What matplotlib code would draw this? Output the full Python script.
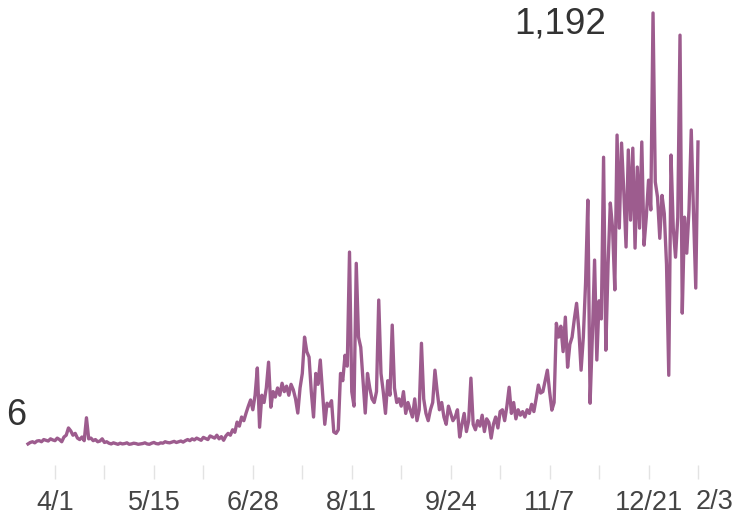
import matplotlib
matplotlib.use('Agg')
import matplotlib.pyplot as plt
import pandas as pd

# casos diarios, lidos a olho no grafico (um valor por dia, a partir de 20/3)
start_date = '2020-03-20'
values = [
    6, 10, 12, 9, 14, 15, 12, 18, 16, 14, 20, 17, 15, 22, 18, 12, 25, 30,
    50, 42, 30, 35, 22, 18, 25, 15, 78, 20, 22, 15, 18, 12, 14, 20, 10, 12,
    8, 6, 9, 7, 5, 8, 6, 7, 9, 5, 6, 8, 7, 5, 6, 7, 9, 6, 5, 8, 10, 7, 6, 9,
    8, 12, 10, 9, 11, 13, 10, 12, 14, 11, 15,
    18, 15, 20, 17, 22, 19, 16, 24, 21, 18, 28, 25, 22, 30, 20, 26, 16, 28, 35, 30,
    45, 38, 66, 55, 80, 70, 91, 110, 127,
    100, 140, 215, 52, 140, 120, 160, 231, 107, 150, 135, 160, 140, 173, 150,
    165, 140, 170, 155, 130, 91, 160, 200, 300, 260, 245, 150, 80, 200, 170,
    237, 150, 60, 118, 110, 125, 39, 35, 45, 200, 180, 250, 220, 534, 150,
    110, 503, 300, 272, 180, 91, 200, 160, 130, 120, 150, 402, 200, 150, 90,
    180, 140, 333, 160, 120, 130, 110, 150, 90, 120, 100, 80, 130, 70, 100,
    283, 130, 90, 70, 100, 120, 209, 150, 100, 120, 80, 60, 110, 90, 70,
    80, 100, 25, 60, 90, 40, 70, 187, 60, 45, 70, 55, 85, 40, 75,
    65, 22, 60, 80, 50, 95, 100, 70, 110, 162, 90, 120, 75, 100, 85,
    95, 80, 100, 90, 115, 95, 130, 168, 146, 150, 180, 209, 150, 99, 120,
    338, 300, 330, 260, 355, 217, 280, 300, 350, 393, 320, 209, 300, 450, 677,
    118, 300, 512, 237, 400, 350, 795, 264, 500, 669, 600, 430, 856, 600, 834,
    700, 548, 815, 622, 820, 545, 768, 600, 837, 553, 630, 732, 650, 1192, 727,
    685, 572, 690, 640, 500, 195, 801, 600, 520, 630, 1131, 366, 630, 531, 650,
    870, 641, 435, 837,
]
tick_labels = ['4/1', '5/15', '6/28', '8/11', '9/24', '11/7', '12/21']
last_label = '2/3'

dates = pd.date_range(start_date, periods=len(values), freq='D')
s = pd.Series(values, index=dates)

cor = '#9d5c8e'
plt.rcParams['font.family'] = ['Liberation Sans', 'DejaVu Sans']

fig = plt.figure(figsize=(7.42, 5.21), dpi=100)
ax = fig.add_axes([28 / 742, 56 / 521, 670 / 742, 452 / 521])
ax.plot(s.index, s.values, color=cor, lw=2.4, clip_on=False)
ax.set_xlim(dates[0], dates[-1])
ax.set_ylim(-52, s.max())

for sp in ax.spines.values():
    sp.set_visible(False)
ax.set_yticks([])

# ticks a cada 22 dias, rotulo a cada 44
tick_dates = pd.date_range('2020-04-01', dates[-1], freq='22D')
ax.set_xticks(tick_dates)
ax.set_xticklabels([tick_labels[i // 2] if i % 2 == 0 else '' for i in range(len(tick_dates))])
ax.tick_params(axis='x', length=10, width=1, color='#e3e3e3', pad=8,
               labelsize=19.5, labelcolor='#444444')
# o ultimo rotulo fica espremido na borda direita
ax.text(1.024, -0.052, last_label, transform=ax.transAxes, ha='center', va='top',
        fontsize=19.5, color='#444444')

# primeiro valor e maximo
ax.annotate(f'{values[0]:,}', (dates[0], values[0]), xytext=(-1, 8), textcoords='offset points',
            ha='right', va='bottom', fontsize=26, color='#333333', annotation_clip=False)
imax = s.values.argmax()
ax.annotate(f'{s.max():,}', (dates[imax], s.max()), xytext=(-34, -8), textcoords='offset points',
            ha='right', va='center', fontsize=26.5, color='#333333', annotation_clip=False)

fig.savefig('out.png', dpi=100)
